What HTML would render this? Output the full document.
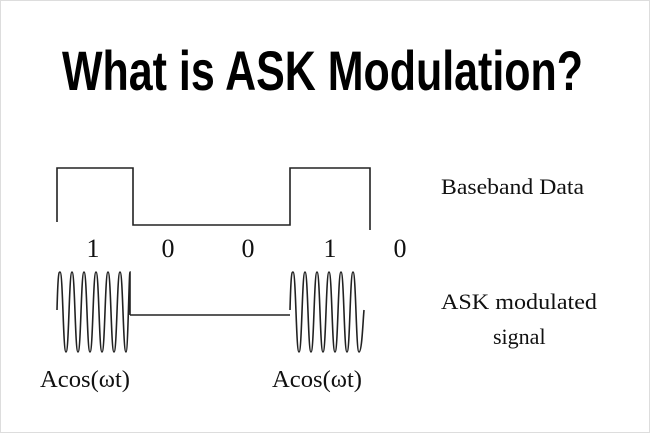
<!DOCTYPE html>
<html><head><meta charset="utf-8"><style>
html,body{margin:0;padding:0;background:#fff}
svg{display:block}
</style></head><body>
<svg width="650" height="433" viewBox="0 0 650 433" xmlns="http://www.w3.org/2000/svg">
<rect x="0.5" y="0.5" width="649" height="432" fill="#fff" stroke="#ddd"/>
<text x="62" y="90" font-family="Liberation Sans, sans-serif" font-weight="bold" font-size="56" textLength="521" lengthAdjust="spacingAndGlyphs" fill="#000">What is ASK Modulation?</text>
<g fill="none" stroke="#222" stroke-width="1.6">
<polyline points="57,222 57,168 133,168 133,225 290,225 290,168 370,168 370,230"/>
<line x1="130" y1="315" x2="290" y2="315"/>
<path d="M57,310 C58,272 59,272 60,272 C63,272 63,352 66,352 C69,352 69,272 72,272 C75,272 75,352 78,352 C81,352 81,272 84,272 C87,272 87,352 90,352 C93,352 93,272 96,272 C99,272 99,352 102,352 C105,352 105,272 108,272 C111,272 111,352 114,352 C117,352 117,272 120,272 C123,272 123,352 126,352 C128,352 129,272 130,272 L130,315"/>
<path d="M290,310 C291,272 292,272 293,272 C296,272 296,352 299,352 C302,352 302,272 305,272 C308,272 308,352 311,352 C314,352 314,272 317,272 C320,272 320,352 323,352 C326,352 326,272 329,272 C332,272 332,352 335,352 C338,352 338,272 341,272 C344,272 344,352 347,352 C350,352 350,272 353,272 C356,272 356,352 359,352 C362,352 363,320 364,310"/>
</g>
<g font-family="Liberation Serif, serif" fill="#111">
<g font-size="26" text-anchor="middle">
<text x="93" y="257">1</text><text x="168" y="257">0</text><text x="248" y="257">0</text><text x="330" y="257">1</text><text x="400" y="257">0</text>
</g>
<g font-size="24">
<text x="40" y="387" textLength="90" lengthAdjust="spacingAndGlyphs">Acos(ωt)</text>
<text x="272" y="387" textLength="90" lengthAdjust="spacingAndGlyphs">Acos(ωt)</text>
</g>
<g font-size="22">
<text x="441" y="194" textLength="143" lengthAdjust="spacingAndGlyphs">Baseband Data</text>
<text x="441" y="309" textLength="156" lengthAdjust="spacingAndGlyphs">ASK modulated</text>
<text x="493" y="344">signal</text>
</g>
</g>
</svg>
</body></html>
